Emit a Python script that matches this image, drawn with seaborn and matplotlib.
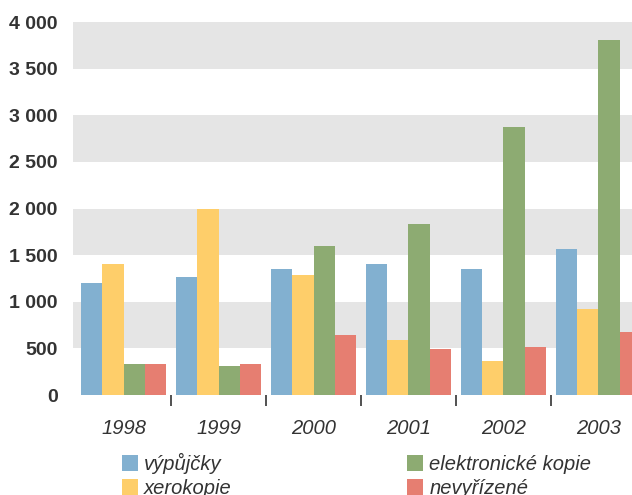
import pandas as pd
import numpy as np
import seaborn as sns
import matplotlib.pyplot as plt
from matplotlib.ticker import FuncFormatter, FixedLocator

years = ['1998', '1999', '2000', '2001', '2002', '2003']
series = ['výpůjčky', 'xerokopie', 'elektronické kopie', 'nevyřízené']
vypujcky = [1200, 1270, 1350, 1400, 1350, 1570]
xerokopie = [1400, 2000, 1290, 585, 360, 920]
elektronicke = [330, 310, 1600, 1830, 2870, 3810]
nevyrizene = [330, 330, 640, 490, 510, 680]
colors = ['#82B0D0', '#FECE6A', '#8DAB72', '#E67E71']

rows = []
for name, vals in zip(series, [vypujcky, xerokopie, elektronicke, nevyrizene]):
    for y, v in zip(years, vals):
        rows.append({'rok': y, 'druh': name, 'pocet': v})
df = pd.DataFrame(rows)

sns.set_theme(style='white')
plt.rcParams['font.family'] = ['Liberation Sans', 'DejaVu Sans']
txt = '#333333'

fig = plt.figure(figsize=(6.32, 4.95), dpi=100)
ax = fig.add_axes([73 / 632, 100 / 495, 576 / 632, 373 / 495])

# grey bands
for lo in [500, 1500, 2500, 3500]:
    ax.axhspan(lo, lo + 500, color='#E5E5E5', lw=0, zorder=0)

sns.barplot(data=df, x='rok', y='pocet', hue='druh', hue_order=series,
            palette=colors, width=0.9, saturation=1, ax=ax, zorder=2,
            linewidth=0, legend=True)

ax.set_xlim(-0.532, 5.532)
ax.set_ylim(0, 4000)
ax.set_xlabel('')
ax.set_ylabel('')
for s in ax.spines.values():
    s.set_visible(False)

ax.yaxis.set_major_locator(FixedLocator(np.arange(0, 4001, 500)))
ax.yaxis.set_major_formatter(FuncFormatter(lambda v, p: f'{int(v):,}'.replace(',', ' ')))
ax.tick_params(axis='y', length=0, pad=11, labelsize=14, labelcolor=txt)
for lab in ax.get_yticklabels():
    lab.set_fontweight('bold')

ax.set_xticks(np.arange(0.5, 5, 1))
ax.set_xticklabels([])
ax.set_xticks(np.arange(6), minor=True)
ax.set_xticklabels(years, minor=True, fontstyle='italic', fontsize=14.5, color=txt)
ax.tick_params(axis='x', which='major', direction='out', length=8, width=1.2,
               color='#333333', bottom=True, pad=0)
ax.tick_params(axis='x', which='minor', length=0, pad=17)

handles, labels = ax.get_legend_handles_labels()
ax.get_legend().remove()
leg = fig.legend(handles, labels, ncol=2, loc='upper left',
                 bbox_to_anchor=(122 / 632, 1 - 453 / 495), frameon=False,
                 prop={'style': 'italic', 'size': 14.5}, handlelength=0.8,
                 handleheight=0.8, handletextpad=0.3, labelspacing=0.25,
                 columnspacing=8.7, borderpad=0, borderaxespad=0)
for t in leg.get_texts():
    t.set_color(txt)

fig.savefig('out.png', dpi=100)
